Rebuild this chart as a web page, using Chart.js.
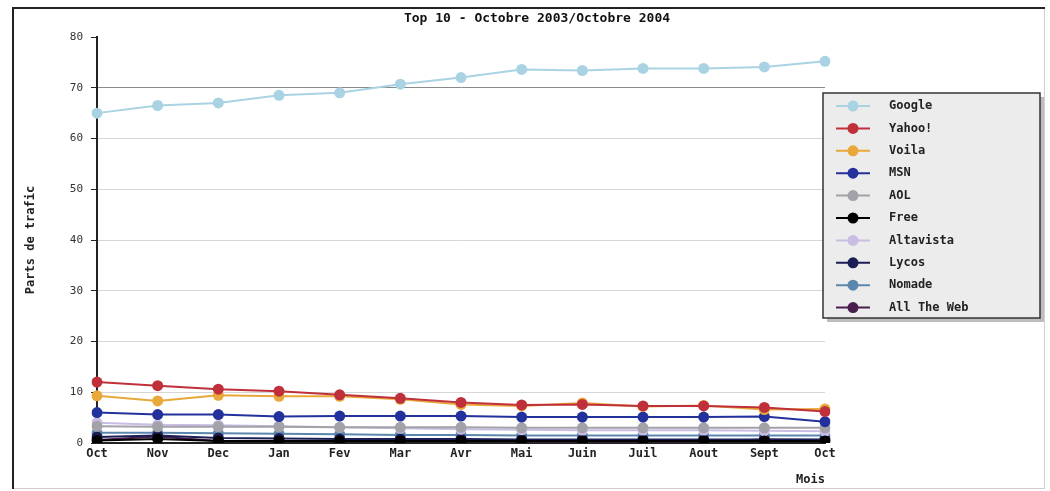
<!DOCTYPE html>
<html>
<head>
<meta charset="utf-8">
<script src="https://cdn.jsdelivr.net/npm/chart.js@4/dist/chart.umd.min.js"></script>
<style>
  body { margin: 0; background: #fff; }
  #wrap { position: absolute; left: 0; top: 0; width: 1050px; height: 491px; }
</style>
</head>
<body>
<div id="wrap"><canvas id="myChart" width="1050" height="491"></canvas></div>
<script>
const months = ['Oct', 'Nov', 'Dec', 'Jan', 'Fev', 'Mar', 'Avr', 'Mai', 'Juin', 'Juil', 'Aout', 'Sept', 'Oct'];

const google    = [65, 66.5, 67, 68.5, 69, 70.7, 72, 73.6, 73.4, 73.8, 73.8, 74.1, 75.2];
const yahoo     = [12, 11.3, 10.6, 10.2, 9.5, 8.8, 8, 7.5, 7.6, 7.3, 7.3, 7, 6.2];
const voila     = [9.3, 8.3, 9.4, 9.2, 9.2, 8.6, 7.6, 7.3, 7.9, 7.2, 7.4, 6.6, 6.7];
const msn       = [6, 5.6, 5.6, 5.2, 5.3, 5.3, 5.3, 5.1, 5.1, 5.1, 5.1, 5.2, 4.2];
const aol       = [3.3, 3.2, 3.2, 3.2, 3.1, 3.1, 3.1, 3, 3, 3, 3, 3, 3];
const free      = [0.5, 0.8, 0.4, 0.4, 0.4, 0.4, 0.4, 0.4, 0.4, 0.4, 0.4, 0.4, 0.4];
const altavista = [4, 3.6, 3.5, 3.3, 3.1, 2.9, 2.7, 2.6, 2.5, 2.5, 2.5, 2.4, 2.3];
const lycos     = [1.2, 1.5, 1, 0.9, 0.8, 0.8, 0.8, 0.7, 0.7, 0.7, 0.7, 0.7, 0.7];
const nomade    = [2, 2, 1.9, 1.8, 1.7, 1.6, 1.6, 1.5, 1.5, 1.5, 1.5, 1.5, 1.5];
const allTheWeb = [0.6, 1.3, 0.4, 0.4, 0.4, 0.4, 0.4, 0.3, 0.3, 0.3, 0.3, 0.7, 0.6];

const yTicks = [0, 10, 20, 30, 40, 50, 60, 70, 80];

const FONT = 'DejaVu Sans Mono';

const series = [
    { label: 'Google', data: google, color: '#a9d3e2' },
    { label: 'Yahoo!', data: yahoo, color: '#c0303a' },
    { label: 'Voila', data: voila, color: '#e8a83a' },
    { label: 'MSN', data: msn, color: '#23319c' },
    { label: 'AOL', data: aol, color: '#a2a2a8' },
    { label: 'Free', data: free, color: '#000000' },
    { label: 'Altavista', data: altavista, color: '#c9bde3' },
    { label: 'Lycos', data: lycos, color: '#1b1d55' },
    { label: 'Nomade', data: nomade, color: '#5b86ad' },
    { label: 'All The Web', data: allTheWeb, color: '#4a1d4e' }
];

// frame, title and the boxed legend drawn over the plot
const decor = {
    id: 'decor',
    beforeDraw(chart) {
        const ctx = chart.ctx;
        ctx.save();
        ctx.fillStyle = '#fff';
        ctx.fillRect(0, 0, chart.width, chart.height);
        ctx.strokeStyle = '#d0d0d0';
        ctx.lineWidth = 1;
        ctx.strokeRect(13.5, 8.5, 1031, 480);
        ctx.strokeStyle = '#222';
        ctx.lineWidth = 2;
        ctx.beginPath();
        ctx.moveTo(13, 489);
        ctx.lineTo(13, 8);
        ctx.lineTo(1045, 8);
        ctx.stroke();
        ctx.restore();
    },
    afterDraw(chart) {
        const ctx = chart.ctx;
        ctx.save();
        ctx.fillStyle = '#111';
        ctx.font = 'bold 13px "' + FONT + '"';
        ctx.textAlign = 'center';
        ctx.textBaseline = 'middle';
        ctx.fillText('Top 10 - Octobre 2003/Octobre 2004', 537, 19);

        const x0 = 823, y0 = 93, w = 217, h = 225;
        ctx.fillStyle = '#bdbdbd';
        ctx.fillRect(x0 + 4, y0 + 4, w, h);
        ctx.fillStyle = '#ececec';
        ctx.fillRect(x0, y0, w, h);
        ctx.strokeStyle = '#333';
        ctx.lineWidth = 1.5;
        ctx.strokeRect(x0, y0, w, h);

        ctx.font = 'bold 12px "' + FONT + '"';
        ctx.textAlign = 'left';
        chart.data.datasets.forEach((ds, i) => {
            const y = 106 + i * 22.4;
            ctx.strokeStyle = ds.borderColor;
            ctx.lineWidth = 2;
            ctx.beginPath();
            ctx.moveTo(836, y);
            ctx.lineTo(870, y);
            ctx.stroke();
            ctx.fillStyle = ds.borderColor;
            ctx.beginPath();
            ctx.arc(853, y, 5.5, 0, Math.PI * 2);
            ctx.fill();
            ctx.fillStyle = '#222';
            ctx.fillText(ds.label, 889, y);
        });
        ctx.restore();
    }
};

const ctx = document.getElementById('myChart').getContext('2d');

const myChart = new Chart(ctx, {
    type: 'line',
    data: {
        labels: months,
        datasets: series.map(s => ({
            label: s.label,
            data: s.data,
            borderColor: s.color,
            backgroundColor: s.color,
            borderWidth: 2,
            pointRadius: 5.5,
            pointBorderWidth: 0,
            pointBackgroundColor: s.color,
            fill: false,
            tension: 0
        }))
    },
    options: {
        responsive: false,
        animation: false,
        layout: { padding: { left: 24, right: 225, top: 37, bottom: 0 } },
        plugins: {
            legend: { display: false },
            title: { display: false },
            tooltip: { enabled: false }
        },
        scales: {
            x: {
                offset: false,
                grid: { display: false, drawTicks: false },
                border: { display: true, color: '#222', width: 2 },
                ticks: {
                    color: '#222',
                    font: { family: FONT, size: 12, weight: 'bold' },
                    padding: 4,
                    maxRotation: 0,
                    autoSkip: false
                },
                title: {
                    display: true,
                    text: 'Mois',
                    align: 'end',
                    color: '#222',
                    font: { family: FONT, size: 12, weight: 'bold' },
                    padding: { top: 0, bottom: 4 }
                },
                afterFit(scale) { scale.height = 48; }
            },
            y: {
                min: 0,
                max: 80,
                afterBuildTicks(scale) { scale.ticks = yTicks.map(v => ({ value: v })); },
                grid: {
                    color: c => {
                        if (!c.tick) return '#d6d6d6';
                        if (c.tick.value === 70) return '#8a8a8a';
                        if (c.tick.value === 80) return 'rgba(0,0,0,0)';
                        return '#d6d6d6';
                    },
                    tickLength: 6,
                    tickColor: '#222'
                },
                border: { display: true, color: '#222', width: 2 },
                ticks: {
                    color: '#333',
                    font: { family: FONT, size: 11 },
                    padding: 8
                },
                title: {
                    display: true,
                    text: 'Parts de trafic',
                    color: '#222',
                    font: { family: FONT, size: 12, weight: 'bold' },
                    padding: { top: 0, bottom: 6 }
                },
                afterFit(scale) { scale.width = 73; }
            }
        }
    },
    plugins: [decor]
});
</script>
</body>
</html>
